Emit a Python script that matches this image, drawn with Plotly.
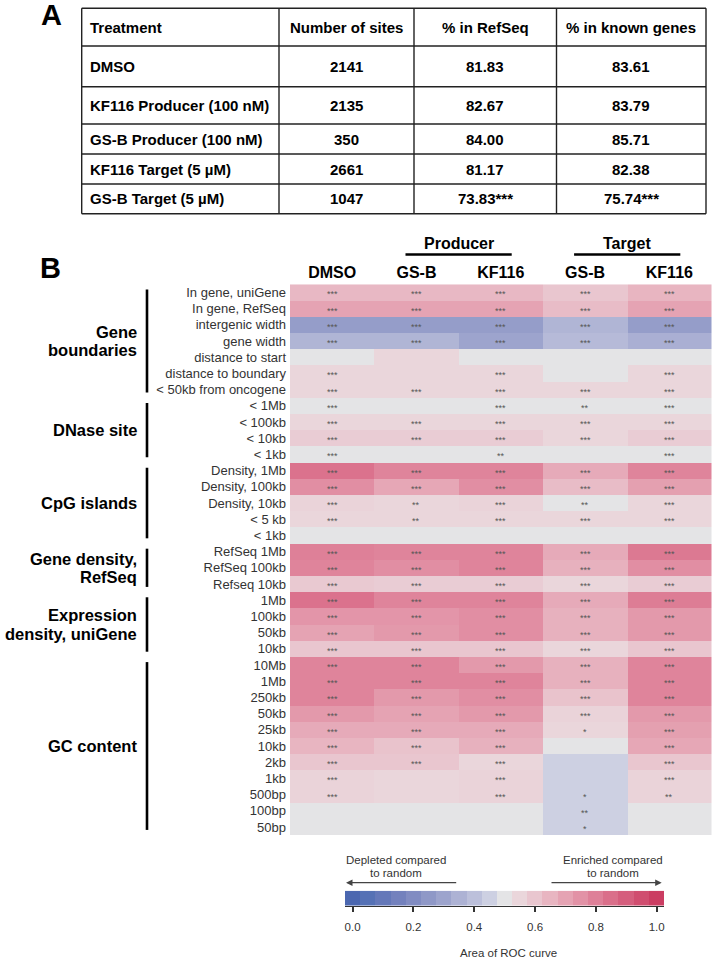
import plotly.graph_objects as go

W, H = 718, 961
FONT = "Liberation Sans, Arial, sans-serif"

# ---------------- Panel A data ----------------
table_columns = ["Treatment", "Number of sites", "% in RefSeq", "% in known genes"]
treatments = ["DMSO", "KF116 Producer (100 nM)", "GS-B Producer (100 nM)",
              "KF116 Target (5 µM)", "GS-B Target (5 µM)"]
num_sites = ["2141", "2135", "350", "2661", "1047"]
pct_refseq = ["81.83", "82.67", "84.00", "81.17", "73.83***"]
pct_known = ["83.61", "83.79", "85.71", "82.38", "75.74***"]

# ---------------- Panel B data ----------------
conditions = ["DMSO", "GS-B", "KF116", "GS-B", "KF116"]
condition_groups = ["Producer", "Target"]
condition_group_cols = [[1, 2], [3, 4]]

group_names = [["Gene", "boundaries"], ["DNase site"], ["CpG islands"],
               ["Gene density,", "RefSeq"], ["Expression", "density, uniGene"],
               ["GC content"]]
group_sizes = [7, 4, 5, 3, 4, 11]

features = ["In gene, uniGene", "In gene, RefSeq", "intergenic width", "gene width",
            "distance to start", "distance to boundary", "< 50kb from oncogene",
            "< 1Mb", "< 100kb", "< 10kb", "< 1kb",
            "Density, 1Mb", "Density, 100kb", "Density, 10kb", "< 5 kb", "< 1kb",
            "RefSeq 1Mb", "RefSeq 100kb", "Refseq 10kb",
            "1Mb", "100kb", "50kb", "10kb",
            "10Mb", "1Mb", "250kb", "50kb", "25kb", "10kb", "2kb", "1kb", "500bp", "100bp", "50bp"]

auc_dmso = [0.64, 0.70, 0.27, 0.36, 0.50, 0.55, 0.55,
            0.50, 0.55, 0.58, 0.50,
            0.84, 0.76, 0.56, 0.55, 0.50,
            0.80, 0.79, 0.59,
            0.84, 0.74, 0.70, 0.60,
            0.79, 0.79, 0.79, 0.73, 0.68, 0.65, 0.60, 0.56, 0.56, 0.50, 0.50]
auc_gsb_prod = [0.64, 0.70, 0.27, 0.36, 0.55, 0.55, 0.55,
                0.50, 0.55, 0.58, 0.50,
                0.79, 0.69, 0.55, 0.55, 0.50,
                0.79, 0.76, 0.58,
                0.79, 0.74, 0.73, 0.60,
                0.79, 0.79, 0.73, 0.70, 0.68, 0.61, 0.60, 0.55, 0.55, 0.50, 0.50]
auc_kf116_prod = [0.64, 0.70, 0.27, 0.30, 0.50, 0.55, 0.55,
                  0.50, 0.55, 0.58, 0.50,
                  0.79, 0.76, 0.56, 0.55, 0.50,
                  0.79, 0.79, 0.58,
                  0.79, 0.76, 0.76, 0.60,
                  0.73, 0.79, 0.76, 0.73, 0.68, 0.66, 0.55, 0.56, 0.56, 0.50, 0.50]
auc_gsb_target = [0.60, 0.63, 0.36, 0.38, 0.50, 0.50, 0.55,
                  0.50, 0.55, 0.55, 0.50,
                  0.68, 0.63, 0.50, 0.55, 0.50,
                  0.68, 0.66, 0.55,
                  0.68, 0.66, 0.66, 0.55,
                  0.66, 0.66, 0.61, 0.56, 0.55, 0.50, 0.45, 0.45, 0.45, 0.45, 0.45]
auc_kf116_target = [0.65, 0.70, 0.27, 0.34, 0.50, 0.55, 0.55,
                    0.50, 0.55, 0.58, 0.50,
                    0.79, 0.71, 0.55, 0.55, 0.50,
                    0.82, 0.76, 0.58,
                    0.81, 0.73, 0.73, 0.60,
                    0.79, 0.79, 0.79, 0.73, 0.71, 0.69, 0.60, 0.56, 0.56, 0.50, 0.50]

stars_dmso = ["***"] * 4 + ["", "***", "***"] + ["***"] * 4 + ["***", "***", "***", "***", ""] + \
             ["***"] * 3 + ["***"] * 4 + ["***"] * 9 + ["", ""]
stars_gsb_prod = ["***"] * 4 + ["", "", "***"] + ["", "***", "***", ""] + ["***", "***", "**", "**", ""] + \
                 ["***"] * 3 + ["***"] * 4 + ["***"] * 7 + ["", "", "", ""]
stars_kf116_prod = ["***"] * 4 + ["", "***", "***"] + ["***", "***", "***", "**"] + ["***", "***", "***", "***", ""] + \
                   ["***"] * 3 + ["***"] * 4 + ["***"] * 9 + ["", ""]
stars_gsb_target = ["***"] * 4 + ["", "", "***"] + ["**", "***", "***", ""] + ["***", "***", "**", "***", ""] + \
                   ["***"] * 3 + ["***"] * 4 + ["***", "***", "***", "***", "*", "", "", "", "*", "**", "*"]
stars_kf116_target = ["***"] * 4 + ["", "***", "***"] + ["***"] * 4 + ["***", "***", "***", "***", ""] + \
                     ["***"] * 3 + ["***"] * 4 + ["***"] * 8 + ["**", "", ""]

colorbar_levels = [0.0, 0.05, 0.10, 0.15, 0.20, 0.25, 0.30, 0.35, 0.40, 0.45, 0.50,
                   0.55, 0.60, 0.65, 0.70, 0.75, 0.80, 0.85, 0.90, 0.95, 1.0]
colorbar_ticks = [0.0, 0.2, 0.4, 0.6, 0.8, 1.0]
colorbar_ticklabels = ["0.0", "0.2", "0.4", "0.6", "0.8", "1.0"]

palette = ["#4b67b0", "#5571b5", "#6478b9", "#7381bd", "#818cc2", "#8f98c7",
           "#9da4cd", "#adb2d4", "#bcc0db", "#cdd0e2", "#e4e4e6", "#ead6db",
           "#e9c6cf", "#e8b5c1", "#e5a3b3", "#e292a6", "#de8098", "#da6f8a",
           "#d55e7d", "#d04d6f", "#cb3d62"]
colorscale = [[k / (len(palette) - 1), c] for k, c in enumerate(palette)]


def px(x):
    return x / W


def py(y):
    return 1 - y / H


def note(x, y, text, size, color="black", bold=False, xanchor="center", xref="paper", yref="paper", **kw):
    return dict(x=x, y=y, xref=xref, yref=yref, text=("<b>" + text + "</b>") if bold else text,
                showarrow=False, xanchor=xanchor, yanchor="middle",
                font=dict(family=FONT, size=size, color=color), **kw)


fig = go.Figure()
annotations = []
shapes = []

# ---------------- Panel A: table ----------------
row_edges = [8.3, 46, 86.7, 124, 154, 184, 213.7]
col_edges = [81.7, 279, 414, 556.5, 706]
table_rows = [table_columns] + [list(r) for r in zip(treatments, num_sites, pct_refseq, pct_known)]
tline = dict(color="#222", width=1.4)
for ye in row_edges:
    shapes.append(dict(type="line", xref="paper", yref="paper", x0=px(col_edges[0]), x1=px(col_edges[-1]),
                       y0=py(ye), y1=py(ye), line=tline))
for xe in col_edges:
    shapes.append(dict(type="line", xref="paper", yref="paper", x0=px(xe), x1=px(xe),
                       y0=py(row_edges[0]), y1=py(row_edges[-1]), line=tline))
for r, row in enumerate(table_rows):
    yc = (row_edges[r] + row_edges[r + 1]) / 2
    for c, val in enumerate(row):
        if c == 0:
            annotations.append(note(px(col_edges[0] + 6.6), py(yc), val, 15, bold=True, xanchor="left"))
        else:
            annotations.append(note(px((col_edges[c] + col_edges[c + 1]) / 2), py(yc), val, 15, bold=True))

# ---------------- Panel B: heatmap ----------------
series = [auc_dmso, auc_gsb_prod, auc_kf116_prod, auc_gsb_target, auc_kf116_target]
stars = [stars_dmso, stars_gsb_prod, stars_kf116_prod, stars_gsb_target, stars_kf116_target]
n_rows = len(features)
z = [[s[i] for s in series] for i in range(n_rows)]

fig.add_trace(go.Heatmap(
    x=list(range(len(conditions))), y=list(range(n_rows)), z=z,
    colorscale=colorscale, zmin=0, zmax=1, showscale=False, hoverinfo="skip",
    xaxis="x", yaxis="y",
))

for j in range(len(conditions)):
    for i in range(n_rows):
        if stars[j][i]:
            annotations.append(note(j, i, stars[j][i], 9, color="#555", xref="x", yref="y", yshift=-2))

# group labels and bars
start = 0
for name_lines, size in zip(group_names, group_sizes):
    center = start + (size - 1) / 2
    nl = len(name_lines)
    for k, line in enumerate(name_lines):
        annotations.append(note(px(139), center, line, 16.5, bold=True, xanchor="right", yref="y",
                                yshift=(-(k - (nl - 1) / 2) * 18.5)))
    shapes.append(dict(type="line", xref="paper", yref="y", x0=px(147), x1=px(147),
                       y0=start - 0.5 + 0.32, y1=start + size - 0.5 - 0.32,
                       line=dict(color="black", width=2.6)))
    start += size

# Producer / Target headers
for gname, gcols in zip(condition_groups, condition_group_cols):
    c = sum(gcols) / len(gcols)
    annotations.append(note(c, py(243), gname, 16, bold=True, xref="x"))
    shapes.append(dict(type="line", xref="x", yref="paper", x0=c - 0.63, x1=c + 0.63,
                       y0=py(254.5), y1=py(254.5), line=dict(color="black", width=2.7)))

# panel letters
annotations.append(note(px(51), py(15), "A", 29, bold=True))
annotations.append(note(px(50), py(268), "B", 29, bold=True))

# ---------------- colour bar ----------------
fig.add_trace(go.Heatmap(
    x=colorbar_levels, y=[0], z=[colorbar_levels], colorscale=colorscale, zmin=0, zmax=1,
    showscale=False, hoverinfo="skip", xaxis="x2", yaxis="y2",
))

for txt, cx in [(["Depleted compared", "to random"], 396), (["Enriched compared", "to random"], 613.3)]:
    for k, line in enumerate(txt):
        annotations.append(note(px(cx), py(860 + 13 * k), line, 11.5, color="#333"))
annotations.append(dict(x=px(346), y=py(882.7), xref="paper", yref="paper", text="",
                        showarrow=True, ax=111.7, ay=0, axref="pixel", ayref="pixel",
                        arrowhead=2, arrowsize=1, arrowwidth=1.3, arrowcolor="#444"))
annotations.append(dict(x=px(661.7), y=py(882.7), xref="paper", yref="paper", text="",
                        showarrow=True, ax=-111.7, ay=0, axref="pixel", ayref="pixel",
                        arrowhead=2, arrowsize=1, arrowwidth=1.3, arrowcolor="#444"))
annotations.append(note(px(508.3), py(953), "Area of ROC curve", 11.5, color="#333"))

fig.update_layout(
    width=W, height=H, margin=dict(l=0, r=0, t=0, b=0),
    paper_bgcolor="white", plot_bgcolor="white",
    font=dict(family=FONT),
    showlegend=False,
    xaxis=dict(domain=[px(290), px(711.5)], range=[-0.5, 4.5], side="top", anchor="y",
               tickvals=list(range(len(conditions))), ticktext=conditions,
               tickfont=dict(family=FONT, size=16, color="black", weight="bold"),
               ticks="", showgrid=False, zeroline=False, showline=False, ticklabelstandoff=2),
    yaxis=dict(domain=[py(835.1), py(284.3)], range=[n_rows - 0.5, -0.5], anchor="x",
               tickvals=list(range(n_rows)), ticktext=features,
               tickfont=dict(family=FONT, size=13, color="#333"),
               ticks="", showgrid=False, zeroline=False, showline=False, ticklabelstandoff=3),
    xaxis2=dict(domain=[px(345), px(664.3)], range=[-0.025, 1.025], anchor="y2",
                tickvals=colorbar_ticks, ticktext=colorbar_ticklabels, tickfont=dict(family=FONT, size=11.5, color="#333"),
                ticks="outside", ticklen=5, tickwidth=1.5, tickcolor="#333",
                showline=True, linecolor="#333", linewidth=1.2,
                showgrid=False, zeroline=False, ticklabelstandoff=5),
    yaxis2=dict(domain=[py(905.7), py(890.7)], range=[-0.5, 0.5], anchor="x2", visible=False),
    annotations=annotations,
    shapes=shapes,
)

fig.write_html("out.html", config={"displayModeBar": False},
               post_script="document.body.style.margin='0px';")
